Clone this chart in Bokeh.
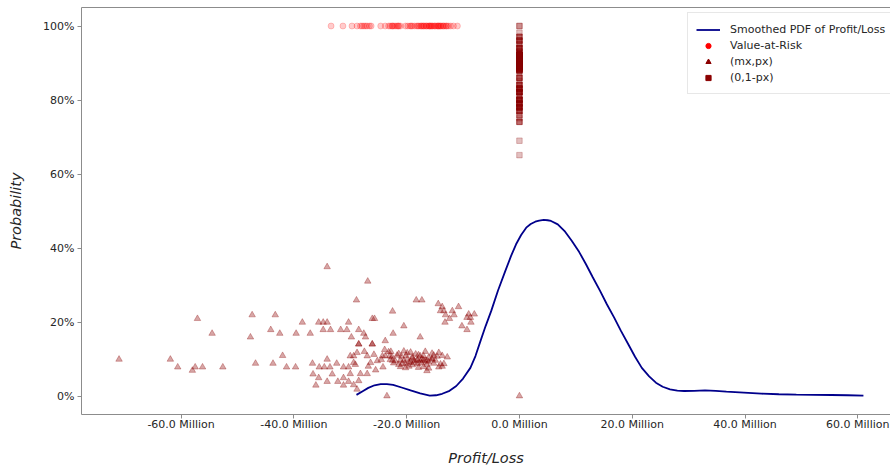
from bokeh.plotting import figure
from bokeh.models import (ColumnDataSource, Legend, LegendItem, LinearAxis, FixedTicker,
                          CustomJSTickFormatter, NumeralTickFormatter, Range1d)
from bokeh.embed import file_html
from bokeh.resources import INLINE

# Smoothed PDF of profit/loss (x in millions, y in percent)
pdf_x = [-28.9, -27.8, -26.8, -25.7, -24.6, -23.5, -22.4, -20.9, -19.3, -17.6, -15.9, -14.8,
         -13.7, -12.4, -11.2, -10.0, -8.7, -7.8, -6.9, -6.0, -5.0, -3.8, -2.5, -1.5, -0.6,
         0.3, 1.2, 2.0, 2.8, 3.5, 4.3, 5.0, 5.6, 6.8, 8.1, 9.3, 10.6, 11.8, 13.0, 14.3, 15.5,
         16.8, 18.0, 19.3, 20.5, 21.7, 23.0, 24.2, 25.4, 26.7, 28.0, 29.2, 31.0, 32.9, 34.8,
         36.7, 39.8, 42.9, 46.0, 49.1, 52.2, 55.3, 58.2, 61.0]
pdf_y = [0.3, 1.3, 2.2, 2.9, 3.2, 3.2, 3.0, 2.3, 1.5, 0.7, 0.1, 0.2,
         0.6, 1.4, 2.7, 4.7, 7.6, 10.8, 14.9, 18.9, 23.0, 28.5, 33.8, 37.8, 41.0,
         43.5, 45.5, 46.5, 47.1, 47.4, 47.6, 47.5, 47.3, 46.4, 44.4, 41.9, 38.9, 35.6, 32.1,
         28.4, 24.8, 21.2, 17.6, 14.0, 10.6, 7.6, 5.3, 3.6, 2.5, 1.8, 1.45, 1.35, 1.4, 1.5,
         1.4, 1.17, 0.9, 0.63, 0.47, 0.36, 0.3, 0.27, 0.2, 0.1]

# Value-at-Risk estimates (millions), plotted at probability 1
var_x = [-33.4, -31.3, -29.7, -28.8, -28.2, -27.9, -27.6, -27.3, -27.0, -26.6, -26.3, -24.6,
         -23.8, -23.2, -22.9, -22.6, -22.3, -22.0, -21.7, -21.4, -21.1, -20.2, -19.8, -19.4,
         -19.0, -18.6, -18.2, -17.8, -17.5, -17.2, -16.9, -16.6, -16.3, -16.0, -15.7, -15.4,
         -15.1, -14.8, -14.5, -14.2, -13.9, -13.6, -13.3, -13.0, -12.6, -12.2, -11.7, -11.0,
         -16.0, -15.5, -15.0, -14.5, -17.0, -16.5, -18.0, -14.0, -13.5, -22.5, -21.5, -19.2,
         -17.4, -15.8, -14.3, -12.9]

# Loss scenarios: mx in millions, px in percent
mx = [-71.0, -61.9, -60.6, -58.0, -57.5, -57.1, -56.2, -54.5, -52.6, -47.7, -47.4, -46.8,
      -44.1, -43.7, -43.3, -42.5, -42.0, -41.3, -39.7, -39.6, -38.5, -37.1, -36.7, -36.6,
      -36.1, -35.6, -35.5, -35.6, -34.8, -34.8, -34.6, -34.1, -34.1, -34.1, -34.1, -33.6,
      -33.5, -33.2, -32.4, -32.2, -31.7, -31.2, -31.2, -31.2, -30.6, -30.3, -30.3, -30.3,
      -29.8, -28.9, -28.5, -28.5, -27.6, -27.3, -26.9, -26.1, -25.7, -26.1, -22.5, -22.4,
      -23.8, -23.5, -28.8, -30.0, -28.2, -27.0, -28.5, -29.4, -30.0, -29.4, -27.0, -24.3,
      -23.8, -23.0, -29.4, -26.4, -29.1, -28.8, -27.5, -25.8, -25.2, -24.5, -23.9, -22.8,
      -26.8, -25.5, -24.2, -22.5, -28.5, -26.1,
      -23.2, -21.4, -20.5, -19.9, -19.3, -18.4, -16.7, -15.5, -14.3,
      -22.6, -21.7, -20.9, -20.1, -19.0, -17.9, -17.0, -16.1, -15.2, -14.6, -13.7, -12.8,
      -22.9, -22.0, -21.1, -20.5, -19.9, -19.3, -18.7, -18.1, -17.6, -17.0, -16.4, -15.5, -14.9,
      -22.3, -21.4, -20.8, -20.2, -19.6, -19.0, -18.1, -17.3, -16.4, -15.2, -14.0, -13.4,
      -21.1, -20.2, -19.6, -17.9, -17.0, -16.1, -14.3, -13.7,
      -16.4,
      -18.1, -17.3, -16.7, -19.0, -15.5, -17.6, -16.1, -18.7,
      -14.4, -13.7, -14.0, -13.4, -11.9, -10.8, -13.1, -11.6, -12.4, -13.2, -9.0, -8.0,
      -9.3, -8.7, -8.6, -10.2, -9.3,
      -18.3, -17.3, -20.5, -17.6, 0.0]
px = [9.9, 9.9, 7.8, 6.9, 7.8, 20.9, 7.8, 16.9, 7.8, 15.9, 21.9, 8.8,
      17.9, 8.8, 21.9, 16.9, 10.9, 7.8, 7.8, 16.9, 19.9, 16.9, 8.8, 5.9,
      2.9, 19.9, 7.8, 4.9, 19.9, 17.9, 7.8, 34.9, 19.9, 9.9, 3.9, 7.8,
      17.9, 5.9, 8.8, 3.9, 17.9, 7.8, 4.9, 2.9, 17.9, 19.9, 7.8, 3.9,
      15.9, 25.9, 17.9, 14.0, 16.9, 15.9, 31.0, 20.9, 20.9, 14.0, 22.9, 16.9,
      14.9, 0.0, 1.8, 6.0, 6.0, 6.0, 4.1, 3.0, 10.8, 10.8, 10.8, 10.8,
      10.8, 10.8, 9.0, 9.0, 8.5, 11.7, 12.0, 11.2, 9.5, 9.8, 12.5, 12.0,
      8.0, 7.0, 7.8, 9.6, 14.0, 14.0,
      11.9, 11.4, 12.1, 11.6, 11.8, 11.3, 12.0, 11.5, 11.7,
      10.6, 11.0, 10.7, 10.9, 10.5, 11.1, 10.8, 10.4, 11.0, 10.7, 10.9, 10.5,
      9.8, 9.4, 9.7, 9.5, 9.9, 9.3, 9.6, 9.8, 9.4, 9.7, 9.5, 9.9, 9.6,
      8.9, 8.5, 8.8, 8.6, 9.0, 8.4, 8.7, 8.9, 8.5, 8.8, 8.6, 8.7,
      7.9, 7.6, 8.0, 7.7, 7.9, 7.5, 7.8, 8.0,
      6.8,
      9.6, 10.0, 9.6, 10.2, 10.0, 10.8, 9.2, 9.0,
      24.9, 24.1, 23.0, 23.0, 23.0, 24.1, 21.9, 21.9, 20.9, 19.9, 22.1, 22.1,
      21.2, 21.2, 19.9, 18.9, 17.9,
      25.9, 25.9, 18.9, 15.9, 0.0]

x_ticks = [-60, -40, -20, 0, 20, 40, 60]
y_ticks = [0.0, 0.2, 0.4, 0.6, 0.8, 1.0]

FONT = "DejaVu Sans"
AXIS_GRAY = "#8c8c8c"
TEXT = "#262626"

p = figure(width=890, height=469, output_backend="svg", toolbar_location=None,
           x_range=Range1d(-77.66, 65.8), y_range=Range1d(-0.05, 1.05),
           min_border_left=81, min_border_right=0, min_border_top=7, min_border_bottom=55,
           background_fill_color="white", border_fill_color="white")
p.outline_line_color = None
p.grid.visible = False

pdf_src = ColumnDataSource(dict(x=pdf_x, y=[v / 100 for v in pdf_y]))
var_src = ColumnDataSource(dict(x=var_x, y=[1.0] * len(var_x)))
tri_src = ColumnDataSource(dict(x=mx, y=[v / 100 for v in px]))
sq_src = ColumnDataSource(dict(x=[0.0] * len(px), y=[1 - v / 100 for v in px]))

p.scatter("x", "y", source=sq_src, marker="square", size=5.5, color="#8B0000",
          fill_alpha=0.25, line_alpha=0.25)
p.scatter("x", "y", source=tri_src, marker="triangle", size=6.5, color="#8B0000",
          fill_alpha=0.35, line_alpha=0.3)
p.scatter("x", "y", source=var_src, marker="circle", size=6, color="#FF0000",
          fill_alpha=0.2, line_alpha=0.2)
p.line("x", "y", source=pdf_src, line_color="#00008B", line_width=1.8)

# solid swatches for the legend, parked outside the visible ranges
far = [-1000.0, -999.0]
lg_line = p.line(far, far, line_color="#00008B", line_width=1.8)
lg_var = p.scatter(far[:1], far[:1], marker="circle", color="#FF0000")
lg_tri = p.scatter(far[:1], far[:1], marker="triangle", color="#8B0000")
lg_sq = p.scatter(far[:1], far[:1], marker="square", color="#8B0000")

legend = Legend(items=[LegendItem(label="Smoothed PDF of Profit/Loss", renderers=[lg_line]),
                       LegendItem(label="Value-at-Risk", renderers=[lg_var]),
                       LegendItem(label="(mx,px)", renderers=[lg_tri]),
                       LegendItem(label="(0,1-px)", renderers=[lg_sq])],
                location=(606, 320), padding=8, spacing=0, margin=0,
                label_height=16, glyph_height=13, glyph_width=24, label_standoff=10,
                label_text_font=FONT, label_text_font_size="11px", label_text_color=TEXT,
                border_line_color="#d0d0d0", border_line_width=1,
                background_fill_color="white", background_fill_alpha=0.8)
p.add_layout(legend)

# axes
xa = p.xaxis[0]
xa.ticker = FixedTicker(ticks=x_ticks)
xa.formatter = CustomJSTickFormatter(code='return tick.toFixed(1) + " Million";')
xa.axis_label = "Profit/Loss"

ya = p.yaxis[0]
ya.ticker = FixedTicker(ticks=y_ticks)
ya.formatter = NumeralTickFormatter(format="0%")
ya.axis_label = "Probability"

for ax in (xa, ya):
    ax.axis_line_color = AXIS_GRAY
    ax.major_tick_line_color = AXIS_GRAY
    ax.major_tick_out = 4
    ax.major_tick_in = 0
    ax.minor_tick_line_color = None
    ax.major_label_text_font = FONT
    ax.major_label_text_font_size = "11px"
    ax.major_label_text_color = TEXT
    ax.axis_label_text_font = FONT
    ax.axis_label_text_font_size = "14.5px"
    ax.axis_label_text_font_style = "italic"
    ax.axis_label_text_color = TEXT

xa.major_label_standoff = -1
xa.axis_label_standoff = 16
ya.major_label_standoff = 3
ya.axis_label_standoff = 16

top = LinearAxis(ticker=FixedTicker(ticks=[]), major_tick_out=0, major_tick_in=0,
                 minor_tick_line_color=None, major_label_text_font_size="0px",
                 major_label_standoff=0, axis_line_color=AXIS_GRAY)
p.add_layout(top, "above")

open("out.html", "w").write(file_html(p, INLINE))
